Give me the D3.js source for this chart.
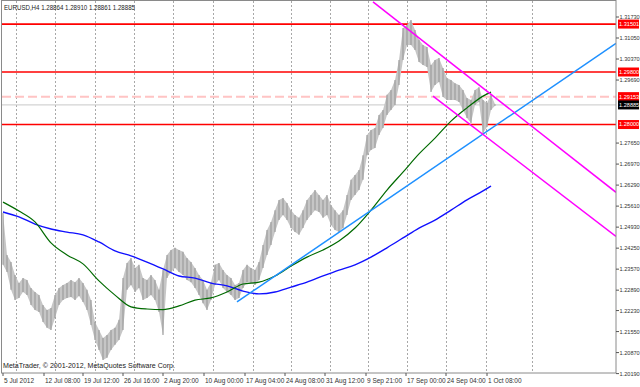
<!DOCTYPE html>
<html>
<head>
<meta charset="utf-8">
<script src="https://cdn.jsdelivr.net/npm/d3@7"></script>
<style>
  body { margin: 0; background: #fff; }
  text { font-family: "Liberation Sans", Arial, sans-serif; }
</style>
</head>
<body>
<div id="chart"></div>
<script>
// H4 bars (sampled), high / low
const barHigh = [1.2539,1.2403,1.2380,1.2338,1.2312,1.2328,1.2322,1.2296,1.2283,1.2273,
  1.2241,1.2225,1.2231,1.2273,1.2296,1.2306,1.2312,1.2322,1.2315,1.2328,
  1.2312,1.2290,1.2257,1.2186,1.2160,1.2134,1.2144,1.2160,1.2167,1.2193,
  1.2328,1.2377,1.2393,1.2361,1.2371,1.2328,1.2322,1.2338,1.2322,1.2290,
  1.2354,1.2403,1.2419,1.2426,1.2419,1.2413,1.2393,1.2380,1.2361,1.2338,
  1.2322,1.2290,1.2315,1.2371,1.2377,1.2354,1.2338,1.2328,1.2306,1.2312,
  1.2354,1.2371,1.2361,1.2354,1.2380,1.2435,1.2484,1.2510,1.2548,1.2581,
  1.2587,1.2571,1.2548,1.2532,1.2523,1.2548,1.2581,1.2597,1.2613,1.2597,
  1.2581,1.2597,1.2565,1.2548,1.2532,1.2548,1.2597,1.2646,1.2662,1.2678,
  1.2726,1.2791,1.2807,1.2814,1.2856,1.2872,1.2921,1.2937,1.2969,1.3034,
  1.3137,1.3147,1.3163,1.3131,1.3099,1.3082,1.3076,1.3018,1.3034,1.3040,
  1.3008,1.2976,1.2969,1.2959,1.2953,1.2937,1.2911,1.2904,1.2937,1.2946,
  1.2904,1.2895,1.2921,1.2891];
const barLow = [1.2371,1.2348,1.2290,1.2257,1.2264,1.2283,1.2273,1.2241,1.2225,1.2218,
  1.2186,1.2167,1.2160,1.2199,1.2241,1.2257,1.2264,1.2267,1.2257,1.2270,
  1.2251,1.2225,1.2176,1.2128,1.2095,1.2063,1.2070,1.2095,1.2112,1.2128,
  1.2160,1.2290,1.2306,1.2283,1.2296,1.2257,1.2264,1.2273,1.2257,1.2218,
  1.2144,1.2328,1.2348,1.2361,1.2348,1.2338,1.2322,1.2315,1.2296,1.2273,
  1.2247,1.2225,1.2257,1.2306,1.2322,1.2296,1.2283,1.2273,1.2257,1.2264,
  1.2296,1.2315,1.2312,1.2306,1.2322,1.2361,1.2403,1.2435,1.2477,1.2516,
  1.2532,1.2516,1.2490,1.2477,1.2468,1.2490,1.2516,1.2532,1.2548,1.2542,
  1.2523,1.2532,1.2500,1.2484,1.2477,1.2490,1.2532,1.2581,1.2597,1.2613,
  1.2646,1.2726,1.2743,1.2749,1.2791,1.2814,1.2856,1.2872,1.2888,1.2953,
  1.3034,1.3082,1.3082,1.3066,1.3027,1.3018,1.3011,1.2930,1.2953,1.2963,
  1.2914,1.2904,1.2904,1.2904,1.2898,1.2872,1.2846,1.2830,1.2888,1.2898,
  1.2798,1.2817,1.2872,1.2886];

// moving averages, one value every 4 bars (last one at bar 122)
const maBars = [0,4,8,12,16,20,24,28,32,36,40,44,48,52,56,60,64,68,72,76,80,84,88,92,96,100,104,108,112,116,120,122];
const maGreen = [1.2574,1.2545,1.2510,1.2442,1.2403,1.2374,1.2319,1.2273,1.2235,1.2228,
  1.2226,1.2238,1.2257,1.2264,1.2283,1.2309,1.2315,1.2335,1.2367,1.2396,
  1.2419,1.2448,1.2490,1.2548,1.2613,1.2671,1.2730,1.2781,1.2836,1.2879,
  1.2917,1.2930];
const maBlue = [1.2542,1.2526,1.2503,1.2487,1.2477,1.2468,1.2445,1.2416,1.2400,1.2380,
  1.2358,1.2335,1.2328,1.2312,1.2303,1.2286,1.2277,1.2283,1.2299,1.2315,
  1.2335,1.2354,1.2371,1.2396,1.2426,1.2458,1.2490,1.2516,1.2548,1.2581,
  1.2610,1.2626];

// drawn objects: [bar, price] anchors, extended to the right
const trendBlue = [[58.5, 1.2251], [120, 1.2794]];
const channelUpper = [[92.5, 1.3222], [120, 1.2943]];
const channelLower = [[107.5, 1.2917], [120, 1.2793]];

const levelPrices = [1.31501, 1.2995, 1.29153, 1.28885, 1.2825];
const levelLabels = ["1.31501", "1.29800", "1.29153", "1.28885", "1.28000"];
const levelKinds = ["red", "red", "dash", "bid", "red"];

const priceTicks = ["1.31730","1.31050","1.30370","1.29690","1.27650","1.26970","1.26290",
  "1.25610","1.24930","1.24250","1.23570","1.22890","1.22230","1.21550","1.20870","1.20190"];

const timeLabels = ["5 Jul 2012","12 Jul 08:00","19 Jul 12:00","26 Jul 16:00","2 Aug 20:00",
  "10 Aug 00:00","17 Aug 04:00","24 Aug 08:00","31 Aug 12:00","9 Sep 21:00",
  "17 Sep 00:00","24 Sep 04:00","1 Oct 08:00"];
const timeLabelBars = [0,10.25,20,30,40,50.25,60.5,70.5,80.5,90.75,100.75,110.75,121];
const gridBars = [3.25,13,22.9,32.75,42.6,52.5,62.4,72.1,81.75,91.25,101,110.75,120.75,132.25];

const title = "EURUSD,H4  1.28864 1.28910 1.28861 1.28885";
const copyright = "MetaTrader, \u00a9 2001-2012, MetaQuotes Software Corp.";

const width = 640, height = 387;
const plot = {left: 2, right: 616, top: 1, bottom: 373};

const svg = d3.select("#chart").append("svg")
    .attr("width", width)
    .attr("height", height)
    .style("display", "block");

const x = d3.scaleLinear().domain([0, barHigh.length - 1]).range([3, 495]);
const y = d3.scaleLinear().domain([1.2019, 1.3173]).range([373.6, 17]);

svg.append("defs").append("clipPath").attr("id", "plotclip")
    .append("rect")
    .attr("x", plot.left).attr("y", plot.top)
    .attr("width", plot.right - plot.left).attr("height", plot.bottom - plot.top);

const g = svg.append("g").attr("clip-path", "url(#plotclip)");

// vertical grid
g.selectAll(".grid").data(gridBars).enter().append("line")
    .attr("x1", d => Math.round(x(d)) + 0.5).attr("x2", d => Math.round(x(d)) + 0.5)
    .attr("y1", plot.top).attr("y2", plot.bottom)
    .attr("stroke", "#a8a8a8").attr("stroke-dasharray", "2,2");

// horizontal levels
const levelStyle = {
  red: {stroke: "#ff0000", width: 1.6, dash: null},
  dash: {stroke: "#ffc4c4", width: 2, dash: "9,4"},
  bid: {stroke: "#c8c8c8", width: 1, dash: null}
};
levelPrices.forEach((p, i) => {
  const s = levelStyle[levelKinds[i]];
  g.append("line")
      .attr("x1", plot.left).attr("x2", plot.right)
      .attr("y1", y(p)).attr("y2", y(p))
      .attr("stroke", s.stroke).attr("stroke-width", s.width)
      .attr("stroke-dasharray", s.dash);
});

// price bars: light band between lows and highs, then each bar as a thin stroke
const bars = g.append("g");
bars.append("path")
    .datum(barHigh)
    .attr("d", d3.area()
        .x((d, i) => x(i))
        .y0((d, i) => y(barLow[i]))
        .y1(d => y(d)))
    .attr("fill", "#c6c6c6");
bars.selectAll("line").data(barHigh).enter().append("line")
    .attr("x1", (d, i) => x(i)).attr("x2", (d, i) => x(i))
    .attr("y1", d => y(d)).attr("y2", (d, i) => y(barLow[i]))
    .attr("stroke", "#999").attr("stroke-width", 1.1);

// moving averages
const maLine = vals => d3.line()
    .x((d, i) => x(maBars[i]))
    .y(d => y(d))
    .curve(d3.curveMonotoneX)(vals);
g.append("path").attr("d", maLine(maBlue))
    .attr("fill", "none").attr("stroke", "#1010ff").attr("stroke-width", 1.4);
g.append("path").attr("d", maLine(maGreen))
    .attr("fill", "none").attr("stroke", "#006a00").attr("stroke-width", 1.2);

// trend lines (rays to the right edge)
function ray(anchors, color) {
  const [[b1, p1], [b2, p2]] = anchors;
  const slope = (p2 - p1) / (b2 - b1);
  const bEnd = x.invert(plot.right);
  g.append("line")
      .attr("x1", x(b1)).attr("y1", y(p1))
      .attr("x2", x(bEnd)).attr("y2", y(p1 + slope * (bEnd - b1)))
      .attr("stroke", color).attr("stroke-width", 1.5);
}
ray(trendBlue, "#1e90ff");
ray(channelUpper, "#ff00ff");
ray(channelLower, "#ff00ff");

// frame
svg.append("rect")
    .attr("x", plot.left - 0.5).attr("y", plot.top - 0.5)
    .attr("width", plot.right - plot.left + 0.5).attr("height", plot.bottom - plot.top + 0.5)
    .attr("fill", "none").attr("stroke", "#8a8a8a").attr("stroke-width", 1);

// price scale
priceTicks.forEach(t => {
  const yy = y(+t);
  svg.append("line").attr("x1", plot.right).attr("x2", plot.right + 3)
      .attr("y1", yy).attr("y2", yy).attr("stroke", "#555");
  svg.append("text").attr("x", plot.right + 3.5).attr("y", yy).attr("dy", "0.35em")
      .attr("font-size", 5.6).attr("fill", "#333")
      .text(t);
});

levelPrices.forEach((p, i) => {
  const yy = y(p);
  svg.append("rect").attr("x", plot.right + 2).attr("y", yy - 4.5)
      .attr("width", width - plot.right - 3).attr("height", 9)
      .attr("fill", levelKinds[i] === "bid" ? "#000" : "#ff0000");
  svg.append("text").attr("x", plot.right + 3).attr("y", yy).attr("dy", "0.35em")
      .attr("font-size", 5.6).attr("fill", "#fff")
      .text(levelLabels[i]);
});

// time scale
timeLabels.forEach((t, i) => {
  const xx = x(timeLabelBars[i]);
  svg.append("line").attr("x1", xx).attr("x2", xx)
      .attr("y1", plot.bottom).attr("y2", plot.bottom + 3).attr("stroke", "#555");
  svg.append("text").attr("x", xx + 1).attr("y", plot.bottom + 8).attr("dy", "0.35em")
      .attr("font-size", 6.5).attr("fill", "#333")
      .text(t);
});

svg.append("text").attr("x", 4).attr("y", 8).attr("dy", "0.35em")
    .attr("font-size", 6.5).attr("fill", "#222")
    .attr("textLength", 131).attr("lengthAdjust", "spacingAndGlyphs")
    .text(title);

svg.append("text").attr("x", 3).attr("y", 366).attr("dy", "0.35em")
    .attr("font-size", 6.8).attr("fill", "#222")
    .attr("textLength", 172).attr("lengthAdjust", "spacingAndGlyphs")
    .text(copyright);
</script>
</body>
</html>
